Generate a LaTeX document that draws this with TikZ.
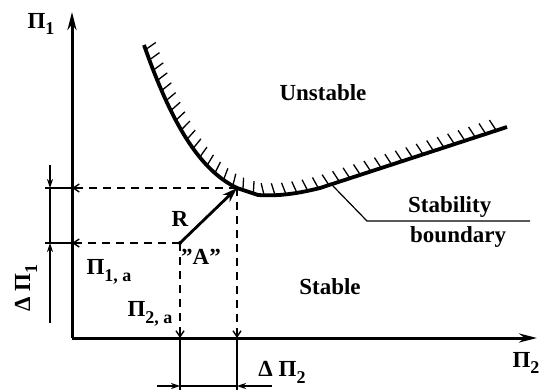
\documentclass[tikz,border=0pt]{standalone}
\usepackage{fontspec}
\setmainfont{Liberation Serif}
\usetikzlibrary{arrows.meta,decorations.markings}
\newcommand\subx[1]{\raisebox{-0.3em}{\fontsize{18}{18}\selectfont #1}}
\newcommand\qt{\symbol{34}}
\tikzset{
  lbl/.style={font=\fontsize{23}{25}\selectfont\bfseries, inner sep=0pt},
  axis/.style={line width=3pt, -{Stealth[length=18pt,width=9pt]}},
  guide/.style={dash pattern=on 8pt off 6pt, line width=1.4pt, -{Straight Barb[length=6pt,width=8pt]}},
  dim/.style={line width=1.1pt},
  dimarr/.style={line width=1.1pt, -{Stealth[length=9pt,width=6pt]}},
  hatched/.style={line width=3.8pt, postaction={decorate, decoration={markings,
    mark=between positions 0.01 and 0.995 step 11pt with {\draw[line width=1.3pt] (0,1pt) -- (-3pt,12pt);}}}},
}
\begin{document}
\begin{tikzpicture}[x=1pt,y=-1pt]
\useasboundingbox (0,0) rectangle (548,390);
% axes
\coordinate (O) at (72,338);
\coordinate (ytip) at (72,12);
\coordinate (xtip) at (537,338);
\draw[axis] (O) -- (ytip);
\draw[axis] (O) -- (xtip);
\node[lbl] (p1) at (41,24) {Π\subx{1}};
\node[lbl] (p2) at (526,363) {Π\subx{2}};

% stability boundary
\coordinate (K) at (237,188);
\draw[hatched] (144,45) .. controls (172,125) and (200,170) .. (K) -- (258,195)
  .. controls (275,196) and (292,195) .. (320,188) -- (507,127);
\node[lbl] (unst) at (323,93) {Unstable};
\node[lbl] (stab) at (330,287) {Stable};
\draw[line width=1.2pt] (333,186) -- (367,221) -- (530,221);
\node[lbl, anchor=base west] (sb1) at (408,212) {Stability};
\node[lbl, anchor=base west] (sb2) at (410,242) {boundary};

% operating point and move
\coordinate (A) at (180,243);
\draw[line width=2.8pt, -{Stealth[length=15pt,width=10pt]}] (A) -- (K);
\fill (A) circle (2pt);
\node[lbl] (r) at (180,219) {R};
\node[lbl] (a) at (201,257) {\qt A\qt};
\draw[guide] (K) -- (K -| O);
\draw[guide] (A) -- (A -| O);
\draw[guide] (A) -- (A |- O);
\draw[guide] (K) -- (K |- O);
\node[lbl] (p1a) at (109,272) {Π\subx{1, a}};
\node[lbl] (p2a) at (150,314) {Π\subx{2, a}};

% delta Pi 1
\coordinate (d1a) at (50,188);
\coordinate (d1b) at (50,243);
\draw[dim] (45,188) -- (K -| O);
\draw[dim] (45,243) -- (A -| O);
\draw[dimarr] (50,165) -- (d1a);
\draw[dim] (d1a) -- (d1b);
\draw[dimarr] (50,323) -- (d1b);
\node[lbl, rotate=90] (dp1) at (26,288) {Δ Π\subx{1}};

% delta Pi 2
\coordinate (d2a) at (180,386);
\coordinate (d2b) at (237,386);
\draw[dim] (A |- O) -- (180,390);
\draw[dim] (K |- O) -- (237,390);
\draw[dimarr] (157,386) -- (d2a);
\draw[dim] (d2a) -- (d2b);
\draw[dimarr] (272,386) -- (d2b);
\node[lbl] (dp2) at (282,372) {Δ Π\subx{2}};
\end{tikzpicture}
\end{document}
